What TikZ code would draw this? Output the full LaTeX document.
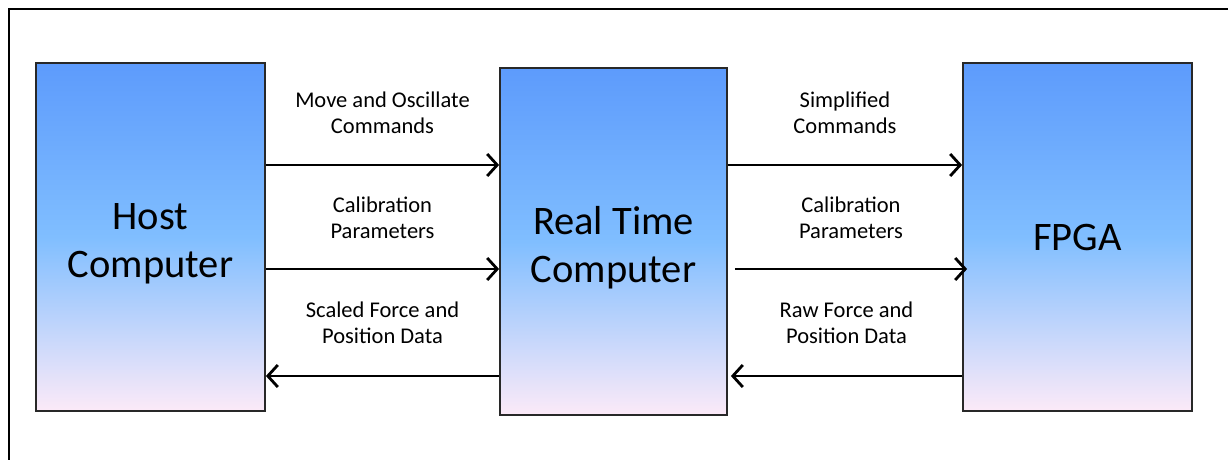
\documentclass[tikz,border=0pt]{standalone}
\usepackage{xcolor}
\usepackage{fontspec}
\setmainfont{Carlito}
\usepackage{tikz}
\usetikzlibrary{arrows.meta, positioning}
\definecolor{boxtop}{RGB}{93,155,252}
\definecolor{boxmid}{RGB}{128,190,255}
\definecolor{boxbot}{RGB}{252,234,248}
\definecolor{boxline}{RGB}{40,40,40}
\tikzstyle{arrow} = [line width=2.8pt,-{Straight Barb[length=10pt,width=22pt,line width=2.8pt]}]
\tikzstyle{unit} = [draw=boxline, line width=1.8pt, minimum width=229pt, minimum height=348pt,
	top color=boxtop, bottom color=boxbot, middle color=boxmid, align=center,
	font=\fontsize{40.5}{48}\selectfont, inner sep=0pt]
\tikzstyle{lbl} = [align=center, font=\fontsize{22.5}{26}\selectfont, text=black]

\begin{document}
\begin{tikzpicture}[x=1pt,y=-1pt]
	\useasboundingbox (0,0) rectangle (1228,460);
	
	% Frame
	\draw [line width=2.6pt] (9,460) -- (9,9) -- (1228,9);
	
	% Units
	\node [unit] (host) at (150.5,237) {\rule{0pt}{40pt}Host\\Computer};
	\node [unit, minimum width=227pt, minimum height=347pt] (rt) at (613.5,241.5) {\rule{0pt}{40pt}Real Time\\Computer};
	\node [unit] (fpga) at (1077.5,237) {FPGA};
	
	% Host <-> Real Time
	\draw [arrow] (host.east |- 0,165) -- (rt.west |- 0,165)
		node [lbl, midway, yshift=52pt] {Move and Oscillate\\Commands};
	\draw [arrow] (host.east |- 0,269) -- (rt.west |- 0,269)
		node [lbl, midway, yshift=51pt] {Calibration\\Parameters};
	\draw [arrow] (rt.west |- 0,376) -- (host.east |- 0,376)
		node [lbl, midway, yshift=53pt] {Scaled Force and\\Position Data};
	
	% Real Time <-> FPGA
	\draw [arrow] (rt.east |- 0,165) -- (fpga.west |- 0,165)
		node [lbl, midway, yshift=52pt] {Simplified\\Commands};
	\draw [arrow] ([xshift=7pt]rt.east |- 0,269) -- ([xshift=5pt]fpga.west |- 0,269)
		node [lbl, midway, yshift=51pt] {Calibration\\Parameters};
	\draw [arrow] (fpga.west |- 0,376) -- ([xshift=3pt]rt.east |- 0,376)
		node [lbl, midway, yshift=53pt] {Raw Force and\\Position Data};
	
\end{tikzpicture}
\end{document}
